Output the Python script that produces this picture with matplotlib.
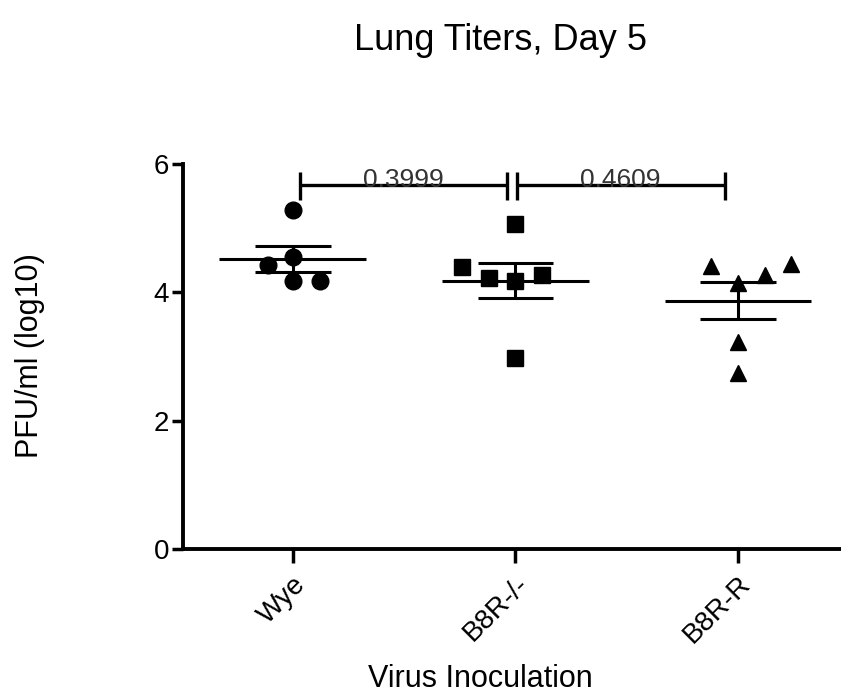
import numpy as np
import matplotlib
matplotlib.use('Agg')
import matplotlib.pyplot as plt

plt.rcParams['font.family'] = ['Liberation Sans', 'DejaVu Sans']

# data
groups = ['Wye', 'B8R-/-', 'B8R-R']
markers = ['o', 's', '^']
# per-point (x offset within group, value)
wye_dx = [0.0, 0.0, -0.11, 0.0, 0.12]
wye_vals = [5.28, 4.55, 4.42, 4.17, 4.17]
b8r_ko_dx = [0.0, -0.24, -0.12, 0.0, 0.12, 0.0]
b8r_ko_vals = [5.06, 4.39, 4.23, 4.17, 4.27, 2.97]
b8r_r_dx = [-0.12, 0.12, 0.24, 0.0, 0.0, 0.0]
b8r_r_vals = [4.41, 4.27, 4.44, 4.15, 3.22, 2.74]

comparisons = [(0, 1, '0.3999'), (1, 2, '0.4609')]
bracket_y = 5.67

dxs = [wye_dx, b8r_ko_dx, b8r_r_dx]
vals = [wye_vals, b8r_ko_vals, b8r_r_vals]

fig = plt.figure(figsize=(8.41, 6.96), dpi=100)
ax = fig.add_axes([0.2176, 0.2112, 0.7824, 0.5532])

for i, (dx, v, m) in enumerate(zip(dxs, vals, markers)):
    v = np.array(v)
    ax.plot(i + np.array(dx), v, linestyle='none', marker=m, ms=12,
            color='black', zorder=3)
    # mean with SEM
    mean = v.mean()
    sem = v.std(ddof=1) / np.sqrt(len(v))
    ax.hlines(mean, i - 0.33, i + 0.33, color='black', lw=2.2, zorder=4)
    ax.hlines([mean - sem, mean + sem], i - 0.17, i + 0.17, color='black',
              lw=2.2, zorder=4)
    ax.vlines(i, mean - sem, mean + sem, color='black', lw=2.2, zorder=4)

# significance brackets
for a, b, label in comparisons:
    x0 = a + (0.03 if a == 0 else 0.005)
    x1 = b - (0.04 if b == 1 else 0.06)
    ax.hlines(bracket_y, x0, x1, color='black', lw=2.4)
    ax.vlines([x0, x1], bracket_y - 0.23, bracket_y + 0.2, color='black', lw=2.4)
    ax.text((x0 + x1) / 2, bracket_y - 0.03, label, ha='center', va='baseline',
            fontsize=19, color='#333333')

ax.set_xlim(-0.494, 2.463)
ax.set_ylim(0, 6)
ax.set_yticks([0, 2, 4, 6])
ax.set_xticks(range(len(groups)))
ax.set_xticklabels(groups, rotation=45, ha='right', rotation_mode='anchor',
                   fontsize=20)
ax.tick_params(axis='y', labelsize=20, length=8, width=2.5, pad=2)
ax.tick_params(axis='x', length=10, width=2.5, pad=6)

for s in ['top', 'right']:
    ax.spines[s].set_visible(False)
for s in ['left', 'bottom']:
    ax.spines[s].set_linewidth(2.8)

fig.text(0.595, 1 - 40 / 696, 'Lung Titers, Day 5', ha='center', va='center',
         fontsize=26)
fig.text(30 / 841, 1 - 356 / 696, 'PFU/ml (log10)', rotation=90,
         ha='center', va='center', fontsize=22)
fig.text(480 / 841, 1 - 694 / 696, 'Virus Inoculation', ha='center',
         va='bottom', fontsize=22)

fig.savefig('out.png', dpi=100)
